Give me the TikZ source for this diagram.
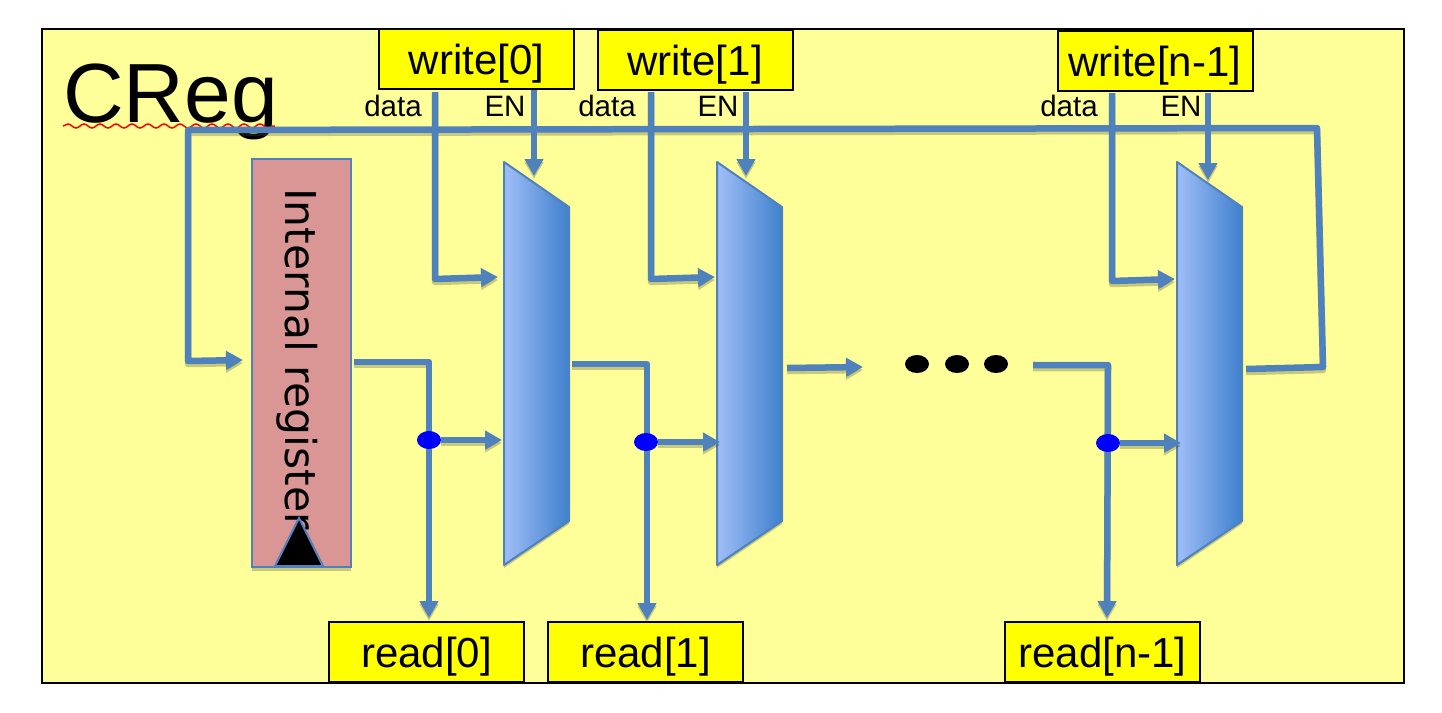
\documentclass[tikz,border=0pt]{standalone}
\usepackage{fontspec}
\setmainfont{Liberation Sans}
\newfontfamily\regfont{DejaVu Sans}
\usetikzlibrary{arrows.meta,calc,decorations.pathmorphing,shapes.geometric}
\definecolor{panelyellow}{HTML}{FFFF99}
\definecolor{portyellow}{HTML}{FFFF00}
\definecolor{wireblue}{HTML}{4F81BD}
\definecolor{regpink}{HTML}{D99694}
\definecolor{muxlight}{HTML}{A0BEF8}
\definecolor{muxdark}{HTML}{3F80CD}
\definecolor{shadowcol}{HTML}{4A4A30}
\definecolor{pureblue}{HTML}{0000FF}
\definecolor{wavered}{HTML}{FF0000}
\tikzset{
  x=1pt,y=-1pt,
  portbox/.style={draw=black,line width=2pt,fill=portyellow,minimum width=195pt,minimum height=60pt,inner sep=0pt,text height=31pt,text depth=0pt,font=\fontsize{42}{48}\selectfont},
  tinylabel/.style={inner sep=0pt,font=\fontsize{29.5}{34}\selectfont},
  wirestyle/.style={draw=wireblue,line width=6.5pt,line join=round},
  wireshadow/.style={draw=shadowcol,opacity=.3,line width=6.5pt,line join=round,transform canvas={yshift=-3pt}},
  tip/.style={-{Triangle[length=17pt,width=18pt]}},
  muxarea/.style={inner sep=0pt,outer sep=0pt,minimum width=65pt,minimum height=403pt},
  joint/.style={ellipse,fill=pureblue,minimum width=24pt,minimum height=18pt,inner sep=0pt},
  etc/.style={ellipse,fill=black,minimum width=24pt,minimum height=18pt,inner sep=0pt},
  muxshape/.style={left color=muxlight,right color=muxdark,draw=wireblue,line width=2pt,line join=round},
}
\newcommand{\wire}[2][]{%
  \draw[wireshadow,#1] #2;
  \draw[wirestyle,#1] #2;
}
\newcommand{\muxdraw}[1]{%
  \fill[shadowcol,opacity=.3,transform canvas={yshift=-3pt}] (#1.north west) -- ($(#1.north east)+(0,45)$) -- ($(#1.south east)+(0,-44)$) -- (#1.south west) -- cycle;
  \shadedraw[muxshape] (#1.north west) -- ($(#1.north east)+(0,45)$) -- ($(#1.south east)+(0,-44)$) -- (#1.south west) -- cycle;
}
\begin{document}
\begin{tikzpicture}
\useasboundingbox (0,0) rectangle (1442,712);
\node[draw=black,line width=2pt,fill=panelyellow,minimum width=1362pt,minimum height=654pt,inner sep=0pt] (panel) at (723,356) {};
\node[anchor=base west,inner sep=0pt,font=\fontsize{84}{90}\selectfont] (title) at (63,122) {CReg};
\draw[wavered,line width=1.5pt,decorate,decoration={snake,amplitude=2pt,segment length=16pt}] (63,126) -- (275,126);

% nodes
\node[draw=wireblue,line width=2pt,fill=regpink,minimum width=99pt,minimum height=408pt,inner sep=0pt,outer sep=0pt] (reg) at (301.5,363) {};
\node[muxarea] (mux0) at (536.5,363.5) {};
\node[muxarea] (mux1) at (749.5,363.5) {};
\node[muxarea] (mux2) at (1209.5,363.5) {};
\node[portbox] (write0) at (476.5,59) {write[0]};
\node[portbox] (write1) at (695,60) {write[1]};
\node[portbox] (write2) at (1155,61) {write[n-1]};
\node[portbox] (read0) at (426.5,652) {read[0]};
\node[portbox] (read1) at (645.5,652) {read[1]};
\node[portbox] (read2) at (1102.5,652) {read[n-1]};
\node[tinylabel] (d0) at (393,106) {data};
\node[tinylabel] (e0) at (505,106) {EN};
\node[tinylabel] (d1) at (607,106) {data};
\node[tinylabel] (e1) at (718,106) {EN};
\node[tinylabel] (d2) at (1069,106) {data};
\node[tinylabel] (e2) at (1181,106) {EN};

% free ends and bends
\coordinate (fbstart) at (1246,369);
\coordinate (fb1) at (1323,367);
\coordinate (fb2) at (1317,128);
\coordinate (fb3) at (188,130);
\coordinate (fb4) at (188,361);
\coordinate (regin) at (243,360);
\coordinate (r0s) at (354,362);
\coordinate (r0b) at (429,362);
\coordinate (r0e) at (429,618);
\coordinate (r1s) at (572,364);
\coordinate (r1b) at (647,364);
\coordinate (r1e) at (647,620);
\coordinate (m1s) at (787,368);
\coordinate (m1e) at (863,367);
\coordinate (r2s) at (1033,365);
\coordinate (r2b) at (1108,365);
\coordinate (r2e) at (1107,618);
\coordinate (j0e) at (502,440);
\coordinate (j1e) at (720,442);
\coordinate (j2e) at (1181,443);

% register
\fill[shadowcol,opacity=.3,transform canvas={yshift=-4pt}] (reg.north west) rectangle (reg.south east);
\draw[wireblue,line width=2pt,fill=regpink] (reg.north west) rectangle (reg.south east);
\node[rotate=-90,inner sep=0pt,font=\regfont\fontsize{42.5}{50}\selectfont] (regtext) at (297,359) {Internal register};
\node[isosceles triangle,isosceles triangle apex angle=53,shape border rotate=90,draw=wireblue,line width=2pt,fill=black,inner sep=0pt,minimum height=48pt,anchor=south] (clk) at (299,567) {};

% muxes
\muxdraw{mux0}
\muxdraw{mux1}
\muxdraw{mux2}

% feedback
\wire[tip]{(fbstart) -- (fb1) -- (fb2) -- (fb3) -- (fb4) -- (regin)}

% reads
\wire[tip]{(r0s) -- (r0b) -- (r0e)}
\wire[tip]{(r1s) -- (r1b) -- (r1e)}
\wire[tip]{(m1s) -- (m1e)}
\wire[tip]{(r2s) -- (r2b) -- (r2e)}

% joints
\node[joint] (j0) at (429,440) {};
\node[joint] (j1) at (646,442) {};
\node[joint] (j2) at (1108,443) {};
\wire[tip]{(j0) -- (j0e)}
\wire[tip]{(j1) -- (j1e)}
\wire[tip]{(j2) -- (j2e)}

% writes
\coordinate (w0d) at (435,92); \coordinate (w0b) at (435,279); \coordinate (w0e) at (498,277);
\coordinate (w0n) at (534,90); \coordinate (w0m) at (534,176);
\coordinate (w1d) at (651,92); \coordinate (w1b) at (651,279); \coordinate (w1e) at (715,277);
\coordinate (w1n) at (746,92); \coordinate (w1m) at (746,176);
\coordinate (w2d) at (1112,93); \coordinate (w2b) at (1112,281); \coordinate (w2e) at (1175,279);
\coordinate (w2n) at (1208,93); \coordinate (w2m) at (1208,180);
\wire[tip]{(w0d) -- (w0b) -- (w0e)}
\wire[tip]{(w0n) -- (w0m)}
\wire[tip]{(w1d) -- (w1b) -- (w1e)}
\wire[tip]{(w1n) -- (w1m)}
\wire[tip]{(w2d) -- (w2b) -- (w2e)}
\wire[tip]{(w2n) -- (w2m)}

% ellipsis dots
\node[etc] (dot1) at (917,364) {};
\node[etc] (dot2) at (957,364) {};
\node[etc] (dot3) at (996,364) {};
\end{tikzpicture}
\end{document}
